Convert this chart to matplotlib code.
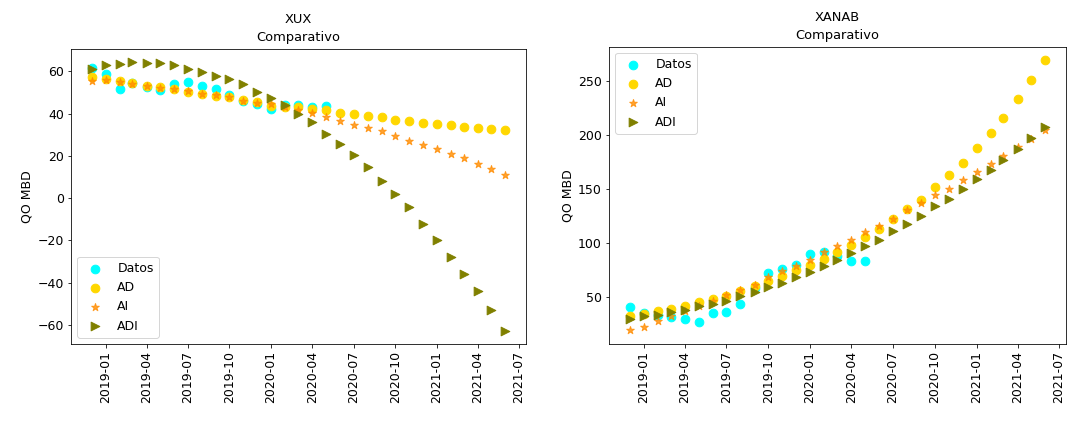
import numpy as np
import pandas as pd
import matplotlib
matplotlib.use('Agg')
import matplotlib.pyplot as plt
import matplotlib.dates as mdates

# fechas mensuales
fechas = pd.date_range('2018-12-01', '2021-06-01', freq='MS')
fechas_datos = fechas[:18]

# pozo XUX
datos_xux = [61.8, 58.7, 51.6, 54.7, 52.8, 51.2, 54.0, 55.0, 53.2, 51.6, 48.6, 46.0,
             44.5, 42.2, 44.1, 44.1, 43.3, 43.5]
ad_xux = [57.2, 56.6, 55.5, 54.5, 53.2, 52.4, 51.6, 50.4, 49.3, 48.3, 47.7, 46.5,
          45.4, 43.8, 43.3, 43.0, 42.4, 41.8, 40.4, 39.6, 39.0, 38.3, 37.1, 36.4,
          35.8, 35.2, 34.4, 33.9, 33.1, 32.5, 32.1]
ai_xux = [55.5, 56.0, 55.0, 54.0, 52.9, 52.1, 51.6, 50.5, 49.3, 49.0, 48.0, 46.2,
          45.1, 44.6, 43.0, 41.8, 40.2, 38.6, 36.4, 34.4, 33.3, 31.6, 29.4, 27.0,
          25.0, 23.1, 20.7, 18.8, 16.1, 13.6, 10.9]
adi_xux = [61.3, 62.9, 63.4, 64.3, 64.1, 63.8, 62.9, 61.3, 59.6, 57.9, 56.3, 54.0,
           50.4, 47.4, 44.1, 39.8, 36.0, 30.5, 25.5, 20.3, 14.8, 8.3, 2.0, -4.4,
           -12.1, -19.9, -27.6, -35.7, -44.0, -52.8, -62.6]

# pozo XANAB
datos_xanab = [40.4, 35.5, 33.0, 31.8, 29.6, 27.2, 35.2, 36.4, 43.5, 58.0, 71.8, 76.0,
               80.0, 90.0, 91.5, 87.6, 83.5, 83.5]
ad_xanab = [32.0, 34.5, 36.7, 38.9, 42.0, 45.4, 48.1, 51.2, 55.2, 59.8, 64.4, 69.7,
            75.3, 79.5, 84.8, 91.6, 98.1, 105.5, 113.2, 122.5, 131.5, 140.1, 151.5, 163.0,
            174.0, 188.0, 201.9, 215.7, 232.7, 250.3, 269.0]
ai_xanab = [19.1, 22.2, 27.4, 32.0, 37.0, 41.5, 45.9, 52.0, 56.8, 61.4, 68.5, 74.4,
            79.0, 84.5, 91.3, 97.5, 103.0, 109.8, 116.0, 122.5, 130.8, 137.0, 144.7, 150.3,
            158.0, 165.7, 173.1, 180.8, 188.5, 196.3, 204.9]
adi_xanab = [29.6, 32.7, 33.6, 35.7, 38.2, 41.3, 43.5, 46.6, 50.6, 54.6, 58.9, 63.0,
             68.5, 73.1, 78.3, 84.5, 90.7, 96.9, 103.0, 110.7, 117.6, 124.6, 133.9, 141.0,
             150.0, 159.3, 167.9, 177.1, 187.0, 197.2, 207.0]

pozos = [('XUX', datos_xux, ad_xux, ai_xux, adi_xux, 'lower left'),
         ('XANAB', datos_xanab, ad_xanab, ai_xanab, adi_xanab, 'upper left')]

plt.rcParams['font.size'] = 12.5

fig = plt.figure(figsize=(1070 / 72, 421 / 72), dpi=72)
posiciones = [[0.0664, 0.183, 0.4252, 0.701], [0.5692, 0.183, 0.4272, 0.706]]

for pos, (nombre, datos, ad, ai, adi, loc) in zip(posiciones, pozos):
    ax = fig.add_axes(pos)
    ax.scatter(fechas_datos, datos, s=75, color='cyan', label='Datos')
    ax.scatter(fechas, ad, s=75, color='gold', label='AD')
    ax.scatter(fechas, ai, s=65, marker='*', color='darkorange', alpha=0.8, label='AI')
    ax.scatter(fechas, adi, s=75, marker='>', color='olive', label='ADI')

    # paramètres graphiques
    ax.set_title(nombre + '\nComparativo', fontsize=13, linespacing=1.45, pad=8)
    ax.set_ylabel('QO MBD')
    ax.xaxis.set_major_locator(mdates.MonthLocator(bymonth=[1, 4, 7, 10]))
    ax.xaxis.set_major_formatter(mdates.DateFormatter('%Y-%m'))
    ax.tick_params(axis='x', labelrotation=90)
    ax.legend(loc=loc, fontsize=12.5)

fig.savefig('out.png', dpi=72)
